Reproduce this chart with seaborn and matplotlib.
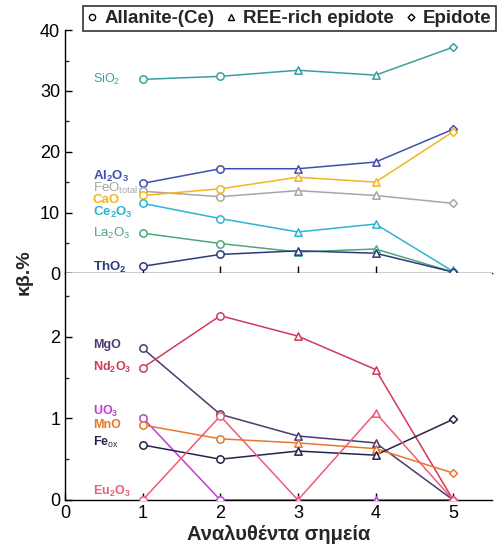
import matplotlib
matplotlib.use('Agg')
import matplotlib.pyplot as plt
from matplotlib.lines import Line2D
from matplotlib.ticker import MultipleLocator, NullLocator
import pandas as pd
import seaborn as sns

# 分析点及矿物类型
points = [1, 2, 3, 4, 5]
minerals = ['Allanite-(Ce)', 'Allanite-(Ce)', 'REE-rich epidote', 'REE-rich epidote', 'Epidote']
mineral_markers = {'Allanite-(Ce)': 'o', 'REE-rich epidote': '^', 'Epidote': 'D'}

# 上图: 主要氧化物 (wt.%)
SiO2 = [31.9, 32.4, 33.4, 32.6, 37.2]
Al2O3 = [14.8, 17.2, 17.2, 18.3, 23.7]
FeO_total = [13.5, 12.6, 13.6, 12.8, 11.5]
CaO = [12.8, 13.9, 15.8, 15.0, 23.3]
Ce2O3 = [11.5, 9.0, 6.8, 8.1, 0.3]
La2O3 = [6.6, 4.9, 3.5, 4.0, 0.2]
ThO2 = [1.15, 3.1, 3.7, 3.3, 0.2]

# 下图: 次要氧化物 (wt.%)
MgO = [1.86, 1.05, 0.785, 0.70, 0.0]
Nd2O3 = [1.62, 2.26, 2.01, 1.60, 0.0]
UO3 = [1.01, 0.0, 0.0, 0.0, 0.0]
MnO = [0.92, 0.75, 0.70, 0.63, 0.33]
Fe_ox = [0.675, 0.50, 0.60, 0.55, 0.99]
Eu2O3 = [0.0, 1.03, 0.0, 1.07, 0.0]

# (名称, 数值, 颜色, 标签y位置, 字号, 粗体)
top_series = [
    (r'SiO$_2$', SiO2, '#3a9fa0', 31.9, 9, 'normal'),
    (r'Al$_\mathbf{2}$O$_\mathbf{3}$', Al2O3, '#3f4fae', 16.0, 9.5, 'bold'),
    (r'FeO$_{total}$', FeO_total, '#a6a6a6', 14.0, 9.5, 'normal'),
    (r'CaO', CaO, '#f2b61f', 12.1, 9.5, 'bold'),
    (r'Ce$_\mathbf{2}$O$_\mathbf{3}$', Ce2O3, '#2fb3d3', 10.0, 9.5, 'bold'),
    (r'La$_2$O$_3$', La2O3, '#4fa77a', 6.6, 9.5, 'normal'),
    (r'ThO$_\mathbf{2}$', ThO2, '#2b3a7e', 1.0, 9.5, 'bold'),
]
bottom_series = [
    (r'MgO', MgO, '#4e3a6f', 1.90, 9, 'bold'),
    (r'Nd$_\mathbf{2}$O$_\mathbf{3}$', Nd2O3, '#d23a5a', 1.63, 9, 'bold'),
    (r'UO$_\mathbf{3}$', UO3, '#c03dd6', 1.08, 9, 'bold'),
    (r'MnO', MnO, '#e5782a', 0.92, 9, 'bold'),
    (r'Fe$_{ox}$', Fe_ox, '#25234f', 0.70, 9, 'bold'),
    (r'Eu$_\mathbf{2}$O$_\mathbf{3}$', Eu2O3, '#ef5a78', 0.10, 9, 'bold'),
]

sns.set_style('ticks')
plt.rcParams['font.family'] = ['Liberation Sans', 'DejaVu Sans']
plt.rcParams['mathtext.fontset'] = 'custom'
plt.rcParams['mathtext.rm'] = 'Liberation Sans'
plt.rcParams['mathtext.bf'] = 'Liberation Sans:bold'
plt.rcParams['mathtext.it'] = 'Liberation Sans'

fig = plt.figure(figsize=(5.02, 5.48), dpi=100)
ax_top = fig.add_axes([0.1295, 0.5013, 0.8506, 0.4437])
ax_bot = fig.add_axes([0.1295, 0.0876, 0.8506, 0.4137])


def draw_series(ax, series):
    for name, values, color, label_y, fs, fw in series:
        df = pd.DataFrame({'point': points, 'value': values, 'mineral': minerals})
        sns.lineplot(data=df, x='point', y='value', color=color, linewidth=1.1, ax=ax,
                     zorder=2, legend=False)
        for m, mk in mineral_markers.items():
            sub = df[df['mineral'] == m]
            sns.scatterplot(data=sub, x='point', y='value', marker=mk,
                            s=28 if mk != 'D' else 16, facecolor='white', edgecolor=color,
                            linewidth=1.1, ax=ax, zorder=3, legend=False)
        ax.text(0.36, label_y, name, color=color, fontsize=fs, fontweight=fw,
                ha='left', va='center')


draw_series(ax_top, top_series)
draw_series(ax_bot, bottom_series)

for ax in (ax_top, ax_bot):
    ax.set_xlim(0, 5.5)
    ax.set_xlabel('')
    ax.set_ylabel('')
    sns.despine(ax=ax)
    ax.xaxis.set_minor_locator(NullLocator())
    ax.tick_params(direction='in', length=5, width=1, labelsize=13, colors='black',
                   right=False, top=False)
    ax.tick_params(which='minor', direction='in', length=3, width=1, right=False, top=False)
    for s in ('left', 'bottom'):
        ax.spines[s].set_linewidth(1)
        ax.spines[s].set_color('black')

ax_top.set_ylim(0, 40)
ax_top.set_yticks([0, 10, 20, 30, 40])
ax_top.yaxis.set_minor_locator(MultipleLocator(5))
ax_top.set_xticks([1, 2, 3, 4, 5])
ax_top.tick_params(axis='x', labelbottom=False)

ax_bot.set_ylim(0, 2.78)
ax_bot.set_yticks([0, 1, 2])
ax_bot.yaxis.set_minor_locator(MultipleLocator(0.5))
ax_bot.set_xticks([0, 1, 2, 3, 4, 5])
ax_bot.set_xlabel('Αναλυθέντα σημεία', fontsize=14.5, fontweight='bold', labelpad=2)

fig.text(0.048, 0.504, 'κβ.%', rotation=90, fontsize=14, fontweight='bold',
         ha='center', va='center')

handles = [Line2D([], [], linestyle='none', marker=mk, markersize=4.5 if mk != 'D' else 3.5,
                  markerfacecolor='white', markeredgecolor='black', markeredgewidth=1)
           for mk in mineral_markers.values()]
leg = fig.legend(handles, list(mineral_markers.keys()), loc='center',
                 bbox_to_anchor=(0.576, 0.966), ncol=3, frameon=True, fancybox=False,
                 prop={'weight': 'bold', 'size': 13.5}, handlelength=0.6, handletextpad=0.35,
                 columnspacing=0.6, borderpad=0.2, borderaxespad=0)
leg.get_frame().set_edgecolor('black')
leg.get_frame().set_linewidth(1.2)

fig.savefig('out.png', dpi=100)
